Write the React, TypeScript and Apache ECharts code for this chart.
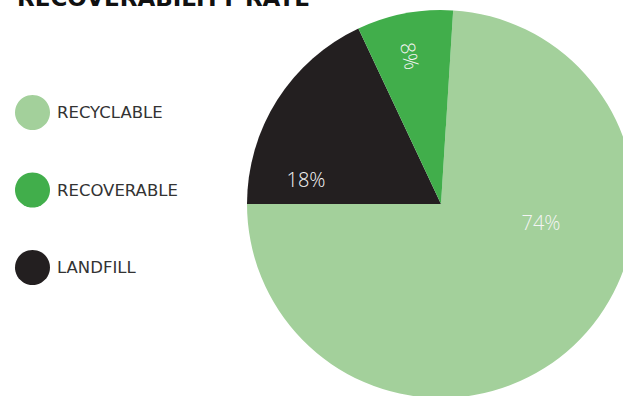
import React, { useEffect, useRef } from "react";
import * as echarts from "echarts";

const titleText = "RECOVERABILITY RATE";
const categories = ["RECYCLABLE", "LANDFILL", "RECOVERABLE"];
const values = [74, 18, 8];
const colors = ["#a3d09b", "#231f20", "#41ae4b"];
const legendOrder = ["RECYCLABLE", "RECOVERABLE", "LANDFILL"];

export default function App() {
  const ref = useRef<HTMLDivElement>(null);
  useEffect(() => {
    if (!ref.current) return;
    document.body.style.margin = "0";
    const chart = echarts.init(ref.current, null, { renderer: "svg" });
    const total = values.reduce((a, b) => a + b, 0);
    const startAngle = -180 + (values[0] / total) * 360;
    const labelSpots: Record<number, { x: number; y: number; rotate: number }> = {
      0: { x: 541, y: 222, rotate: 0 },
      1: { x: 306, y: 179, rotate: 0 },
      2: { x: 410, y: 56, rotate: -79 },
    };
    chart.setOption({
      animation: false,
      backgroundColor: "#ffffff",
      graphic: [
        {
          type: "text",
          x: 17,
          y: 9,
          style: {
            text: titleText,
            font: "bold 23px 'DejaVu Sans'",
            fill: "#111111",
            verticalAlign: "bottom",
          },
        },
      ],
      legend: {
        orient: "vertical",
        left: 15,
        top: 95,
        padding: 0,
        icon: "circle",
        itemWidth: 35,
        itemHeight: 35,
        itemGap: 42.5,
        data: legendOrder,
        selectedMode: false,
        textStyle: {
          fontFamily: "DejaVu Sans",
          fontSize: 16.5,
          color: "#333333",
          padding: [0, 0, 0, 2],
        },
      },
      series: [
        {
          type: "pie",
          center: [441, 204],
          radius: 194,
          startAngle,
          clockwise: true,
          silent: true,
          data: categories.map((c, i) => ({
            name: c,
            value: values[i],
            itemStyle: { color: colors[i] },
          })),
          label: {
            show: true,
            position: "inside",
            formatter: (p: any) => `${p.value}%`,
            color: "#f4f4f4",
            fontFamily: "Open Sans",
            fontWeight: 300,
            fontSize: 20,
          },
          labelLine: { show: false },
          labelLayout: (params: any) => {
            const s = labelSpots[params.dataIndex];
            return { x: s.x, y: s.y, rotate: s.rotate, align: "center", verticalAlign: "middle" };
          },
        },
      ],
    });
    return () => chart.dispose();
  }, []);
  return <div ref={ref} style={{ width: 623, height: 396 }} />;
}
